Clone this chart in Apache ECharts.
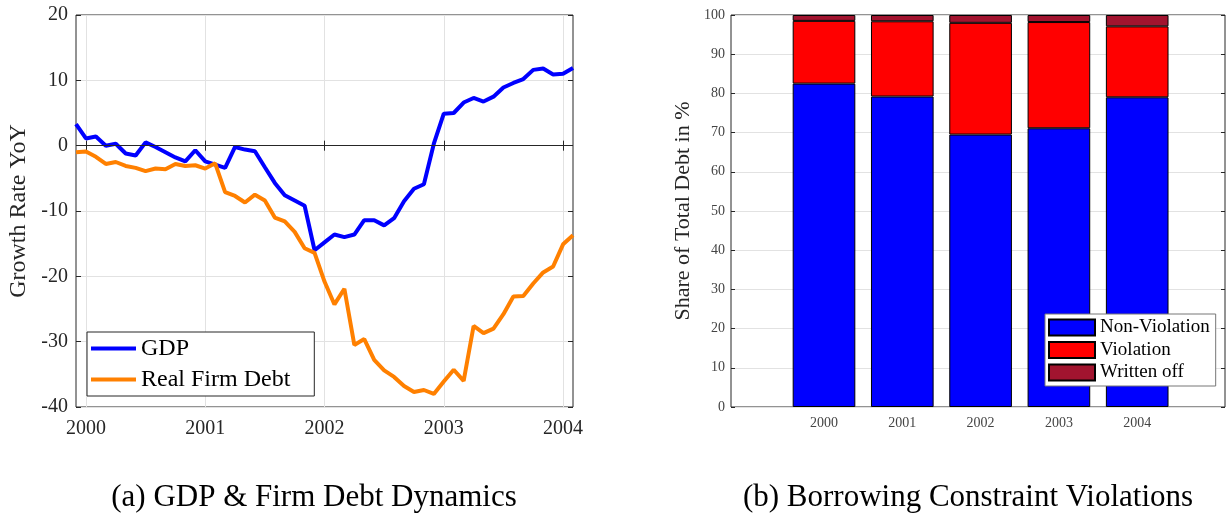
<!DOCTYPE html>
<html>
<head>
<meta charset="utf-8">
<script src="https://cdn.jsdelivr.net/npm/echarts@6/dist/echarts.min.js"></script>
<style>
html,body{margin:0;padding:0;background:#fff;}
#main{width:1227px;height:517px;}
</style>
</head>
<body>
<div id="main"></div>
<script>
// ---- Panel (a): monthly YoY growth, Dec 1999 .. Feb 2004 ----
const months = [
  '1999-12',
  '2000-01','2000-02','2000-03','2000-04','2000-05','2000-06','2000-07','2000-08','2000-09','2000-10','2000-11','2000-12',
  '2001-01','2001-02','2001-03','2001-04','2001-05','2001-06','2001-07','2001-08','2001-09','2001-10','2001-11','2001-12',
  '2002-01','2002-02','2002-03','2002-04','2002-05','2002-06','2002-07','2002-08','2002-09','2002-10','2002-11','2002-12',
  '2003-01','2003-02','2003-03','2003-04','2003-05','2003-06','2003-07','2003-08','2003-09','2003-10','2003-11','2003-12',
  '2004-01','2004-02'
];
const gdp = [
  3.3,
  1.1, 1.4, 0.0, 0.3, -1.2, -1.5, 0.5, -0.2, -1.0, -1.8, -2.4, -0.7,
  -2.4, -2.9, -3.4, -0.2, -0.6, -0.85, -3.3, -5.7, -7.6, -8.4, -9.2, -16.0,
  -14.8, -13.6, -14.0, -13.6, -11.4, -11.4, -12.2, -11.1, -8.5, -6.6, -5.9, 0.3,
  4.9, 5.0, 6.6, 7.3, 6.75, 7.5, 8.9, 9.6, 10.2, 11.6, 11.8, 10.9,
  11.0, 11.9
];
const firmDebt = [
  -1.0,
  -0.9, -1.7, -2.8, -2.5, -3.1, -3.4, -3.9, -3.5, -3.6, -2.8, -3.1, -3.0,
  -3.5, -2.7, -7.1, -7.7, -8.7, -7.5, -8.4, -11.0, -11.6, -13.2, -15.7, -16.4,
  -20.8, -24.3, -21.9, -30.5, -29.6, -32.8, -34.4, -35.4, -36.8, -37.7, -37.4, -38.0,
  -36.1, -34.3, -36.0, -27.6, -28.7, -28.0, -25.8, -23.1, -23.0, -21.1, -19.4, -18.5,
  -15.1, -13.7
];

// ---- Panel (b): shares of total debt ----
const years = ['2000', '2001', '2002', '2003', '2004'];
const nonViolation = [82.5, 79.2, 69.5, 71.1, 79.0];
const violation = [16.0, 19.2, 28.5, 27.1, 18.1];
const writtenOff = [1.5, 1.6, 2.0, 1.8, 2.9];

const captionA = '(a) GDP & Firm Debt Dynamics';
const captionB = '(b) Borrowing Constraint Violations';

const FONT = 'Liberation Serif';
const AX = '#262626';
const GRIDC = '#e2e2e2';
const isJan = (idx, val) => String(val).slice(5) === '01';

const chart = echarts.init(document.getElementById('main'), null, {renderer: 'canvas'});
chart.setOption({
  animation: false,
  backgroundColor: '#fff',
  textStyle: {fontFamily: FONT},
  grid: [
    {left: 76, top: 15, width: 497, height: 392, show: true, borderColor: AX, borderWidth: 1, outerBoundsMode: 'none', containLabel: false},
    {left: 731, top: 15, width: 494, height: 392, show: true, borderColor: AX, borderWidth: 1, outerBoundsMode: 'none', containLabel: false},
    {left: 784.85, top: 15, width: 391.5, height: 392, outerBoundsMode: 'none', containLabel: false}
  ],
  xAxis: [
    {gridIndex: 0, type: 'category', data: months, boundaryGap: false,
     axisLine: {show: false},
     axisTick: {show: true, inside: true, length: 5, interval: isJan, lineStyle: {color: AX}},
     axisLabel: {interval: isJan, formatter: v => v.slice(0, 4), fontSize: 20, margin: 12, color: AX, fontFamily: FONT},
     splitLine: {show: true, interval: isJan, lineStyle: {color: GRIDC, width: 1}}},
    {gridIndex: 0, type: 'category', data: months, boundaryGap: false, position: 'top',
     axisLine: {show: false},
     axisTick: {show: true, inside: true, length: 5, interval: isJan, lineStyle: {color: AX}},
     axisLabel: {show: false}, splitLine: {show: false}},
    {gridIndex: 1, type: 'value', min: 0, max: 1, show: false},
    {gridIndex: 2, type: 'category', data: years,
     axisLine: {show: false},
     axisTick: {show: true, inside: true, alignWithLabel: true, length: 4, lineStyle: {color: AX}},
     axisLabel: {fontSize: 14, margin: 9, color: '#444', fontFamily: FONT},
     splitLine: {show: false}},
    {gridIndex: 2, type: 'category', data: years, position: 'top',
     axisLine: {show: false},
     axisTick: {show: true, inside: true, alignWithLabel: true, length: 4, lineStyle: {color: AX}},
     axisLabel: {show: false}, splitLine: {show: false}}
  ],
  yAxis: [
    {gridIndex: 0, type: 'value', min: -40, max: 20, interval: 10,
     axisLine: {show: false},
     axisTick: {show: true, inside: true, length: 5, lineStyle: {color: AX}},
     axisLabel: {fontSize: 20, margin: 8, color: AX, fontFamily: FONT},
     splitLine: {show: true, lineStyle: {color: GRIDC, width: 1}},
     name: 'Growth Rate YoY', nameLocation: 'middle', nameGap: 45,
     nameTextStyle: {fontSize: 24, color: AX, fontFamily: FONT}},
    {gridIndex: 0, type: 'value', min: -40, max: 20, interval: 10, position: 'right',
     axisLine: {show: false},
     axisTick: {show: true, inside: true, length: 5, lineStyle: {color: AX}},
     axisLabel: {show: false}, splitLine: {show: false}},
    {gridIndex: 1, type: 'value', min: 0, max: 100, interval: 10,
     axisLine: {show: false},
     axisTick: {show: true, inside: true, length: 4, lineStyle: {color: AX}},
     axisLabel: {fontSize: 14, margin: 6, color: '#444', fontFamily: FONT},
     splitLine: {show: true, lineStyle: {color: GRIDC, width: 1}},
     name: 'Share of Total Debt in %', nameLocation: 'middle', nameGap: 37,
     nameTextStyle: {fontSize: 22, color: AX, fontFamily: FONT}},
    {gridIndex: 1, type: 'value', min: 0, max: 100, interval: 10, position: 'right',
     axisLine: {show: false},
     axisTick: {show: true, inside: true, length: 4, lineStyle: {color: AX}},
     axisLabel: {show: false}, splitLine: {show: false}},
    {gridIndex: 2, type: 'value', min: 0, max: 100, show: false}
  ],
  legend: [
    {data: ['GDP', 'Real Firm Debt'], orient: 'vertical', left: 87, top: 332,
     icon: 'rect', itemWidth: 45, itemHeight: 4, itemGap: 6, selectedMode: false,
     padding: [4, 24, 4, 4], borderColor: AX, borderWidth: 1, backgroundColor: '#fff',
     textStyle: {fontSize: 24, lineHeight: 25, color: '#000', fontFamily: FONT}},
    {data: ['Non-Violation', 'Violation', 'Written off'], orient: 'vertical', left: 1045, top: 314,
     icon: 'rect', itemWidth: 46, itemHeight: 16, itemGap: 3.5, selectedMode: false,
     padding: [4, 6, 4, 3], borderColor: '#777', borderWidth: 1, backgroundColor: '#fff',
     textStyle: {fontSize: 19, lineHeight: 19, color: '#000', fontFamily: FONT}}
  ],
  series: [
    {name: 'zero', type: 'line', xAxisIndex: 0, yAxisIndex: 0, data: [], z: 1, silent: true,
     markLine: {silent: true, symbol: 'none', label: {show: false},
       lineStyle: {color: AX, width: 1, type: 'solid'}, data: [{yAxis: 0}]}},
    {name: 'GDP', type: 'line', xAxisIndex: 0, yAxisIndex: 0, data: gdp, showSymbol: false, z: 3,
     color: '#0000FF', lineStyle: {color: '#0000FF', width: 4}},
    {name: 'Real Firm Debt', type: 'line', xAxisIndex: 0, yAxisIndex: 0, data: firmDebt, showSymbol: false, z: 4,
     color: '#FF8000', lineStyle: {color: '#FF8000', width: 4}},
    {name: 'Non-Violation', type: 'bar', xAxisIndex: 3, yAxisIndex: 4, stack: 'share', data: nonViolation,
     barWidth: '80%', itemStyle: {color: '#0000FF', borderColor: '#000', borderWidth: 1}},
    {name: 'Violation', type: 'bar', xAxisIndex: 3, yAxisIndex: 4, stack: 'share', data: violation,
     barWidth: '80%', itemStyle: {color: '#FF0000', borderColor: '#000', borderWidth: 1}},
    {name: 'Written off', type: 'bar', xAxisIndex: 3, yAxisIndex: 4, stack: 'share', data: writtenOff,
     barWidth: '80%', itemStyle: {color: '#A2142F', borderColor: '#000', borderWidth: 1}}
  ],
  graphic: [
    {type: 'text', x: 314, y: 498, silent: true,
     style: {text: captionA, font: '31px "Liberation Serif"', fill: '#000', align: 'center', verticalAlign: 'middle', textAlign: 'center', textVerticalAlign: 'middle'}},
    {type: 'text', x: 968, y: 498, silent: true,
     style: {text: captionB, font: '31px "Liberation Serif"', fill: '#000', align: 'center', verticalAlign: 'middle', textAlign: 'center', textVerticalAlign: 'middle'}}
  ]
});
</script>
</body>
</html>
